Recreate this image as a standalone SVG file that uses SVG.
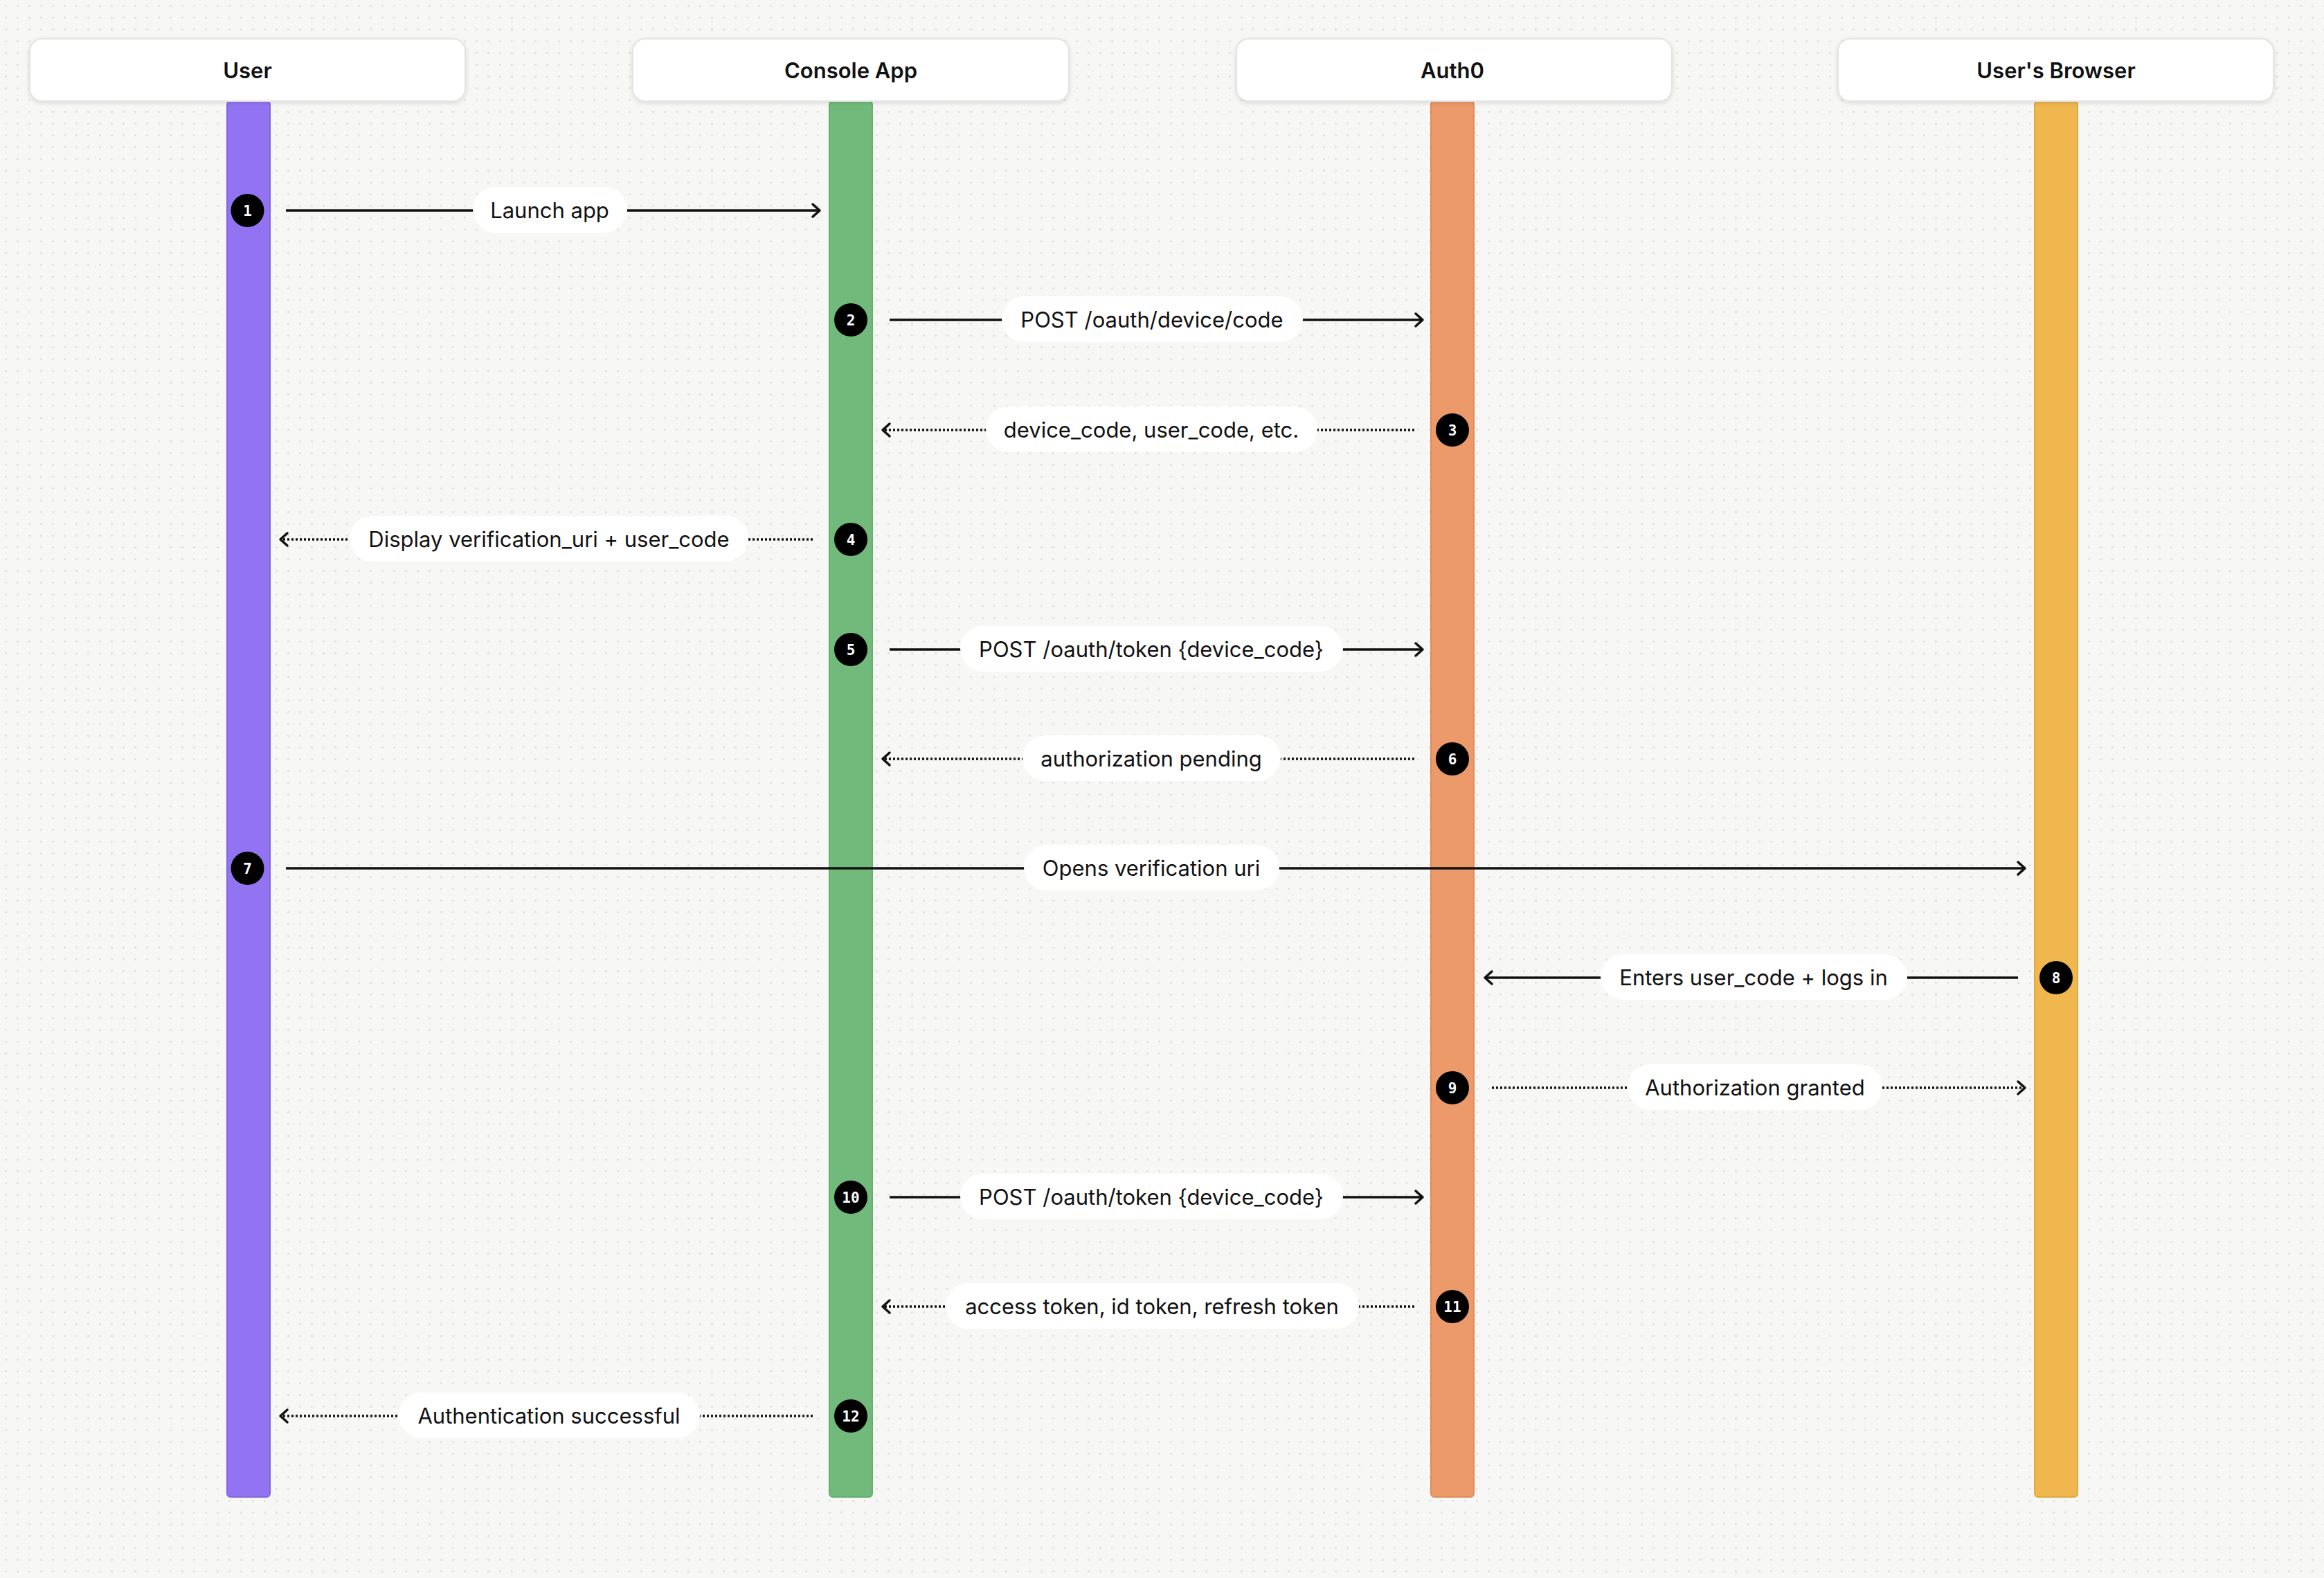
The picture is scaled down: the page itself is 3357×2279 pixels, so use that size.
<svg xmlns="http://www.w3.org/2000/svg" width="3357" height="2279" viewBox="0 0 3357 2279">
<defs>
<pattern id="dots" width="17" height="17" patternUnits="userSpaceOnUse"><circle cx="8.5" cy="8.5" r="1.6" fill="#e0e0dc"/></pattern>
<marker id="ah" markerUnits="userSpaceOnUse" markerWidth="24" markerHeight="24" viewBox="0 0 24 24" refX="20" refY="12" orient="auto"><path d="M10,3 L20,12 L10,21" fill="none" stroke="#111" stroke-width="3.5" stroke-linecap="round" stroke-linejoin="round"/></marker>
<filter id="sh" x="-5%" y="-20%" width="110%" height="150%"><feDropShadow dx="0" dy="2" stdDeviation="3" flood-color="#000" flood-opacity="0.12"/></filter>
</defs>
<style>
.hdr{fill:#fff;stroke:#e4e4e4;stroke-width:2;filter:url(#sh)}
.ht{font-family:Inter,"Noto Sans",sans-serif;font-weight:600;font-size:31px;fill:#111;text-anchor:middle;dominant-baseline:central}
.ln{stroke:#111;stroke-width:3.5;fill:none;marker-end:url(#ah)}
.dt{stroke-dasharray:3 3}
.pill{fill:#fff}
.lt{font-family:Inter,"Noto Sans",sans-serif;font-size:31px;fill:#111;text-anchor:middle;dominant-baseline:central}
.bd{fill:#000}
.bt{font-family:"DejaVu Sans Mono",monospace;font-weight:bold;font-size:21px;fill:#fff;text-anchor:middle;dominant-baseline:central}
</style>
<rect width="3357" height="2279" fill="#f7f7f5"/>
<rect width="3357" height="2279" fill="url(#dots)"/>
<g id="user"><rect x="328" y="146" width="62" height="2016" rx="5" fill="#9274f3" stroke="#8466e0" stroke-width="2"/><rect class="hdr" x="43" y="56" width="629" height="90" rx="18"/><text class="ht" x="357.5" y="101">User</text></g>
<g id="console"><rect x="1198" y="146" width="62" height="2016" rx="5" fill="#72ba7b" stroke="#66ad70" stroke-width="2"/><rect class="hdr" x="914" y="56" width="630" height="90" rx="18"/><text class="ht" x="1229" y="101">Console App</text></g>
<g id="auth0"><rect x="2067" y="146" width="62" height="2016" rx="5" fill="#ec9a6a" stroke="#de8c5c" stroke-width="2"/><rect class="hdr" x="1786" y="56" width="629" height="90" rx="18"/><text class="ht" x="2098" y="101">Auth0</text></g>
<g id="browser"><rect x="2939" y="146" width="62" height="2016" rx="5" fill="#efb74d" stroke="#e0a940" stroke-width="2"/><rect class="hdr" x="2655" y="56" width="629" height="90" rx="18"/><text class="ht" x="2970" y="101">User's Browser</text></g>
<g id="connectors">
<line class="ln" x1="413" y1="304" x2="1184" y2="304"/>
<line class="ln" x1="1285" y1="462" x2="2055" y2="462"/>
<line class="ln dt" x1="2043" y1="621" x2="1275" y2="621"/>
<line class="ln dt" x1="1174" y1="779" x2="405" y2="779"/>
<line class="ln" x1="1285" y1="938" x2="2055" y2="938"/>
<line class="ln dt" x1="2043" y1="1096" x2="1275" y2="1096"/>
<line class="ln" x1="413" y1="1254" x2="2925" y2="1254"/>
<line class="ln" x1="2915" y1="1412" x2="2145" y2="1412"/>
<line class="ln dt" x1="2155" y1="1571" x2="2925" y2="1571"/>
<line class="ln" x1="1285" y1="1729" x2="2055" y2="1729"/>
<line class="ln dt" x1="2043" y1="1887" x2="1275" y2="1887"/>
<line class="ln dt" x1="1174" y1="2045" x2="405" y2="2045"/>
</g>
<g id="labels">
<rect class="pill" x="683" y="270" width="223" height="66" rx="33"/><text class="lt" x="794" y="303">Launch app</text>
<rect class="pill" x="1447" y="428" width="435" height="66" rx="33"/><text class="lt" x="1664" y="461">POST /oauth/device/code</text>
<rect class="pill" x="1424" y="587" width="479" height="66" rx="33"/><text class="lt" x="1663" y="620">device_code, user_code, etc.</text>
<rect class="pill" x="505" y="745" width="576" height="66" rx="33"/><text class="lt" x="793" y="778">Display verification_uri + user_code</text>
<rect class="pill" x="1387" y="904" width="553" height="66" rx="33"/><text class="lt" x="1663" y="937">POST /oauth/token {device_code}</text>
<rect class="pill" x="1477" y="1062" width="373" height="66" rx="33"/><text class="lt" x="1663" y="1095">authorization pending</text>
<rect class="pill" x="1479" y="1220" width="369" height="66" rx="33"/><text class="lt" x="1663" y="1253">Opens verification uri</text>
<rect class="pill" x="2312" y="1378" width="443" height="66" rx="33"/><text class="lt" x="2533" y="1411">Enters user_code + logs in</text>
<rect class="pill" x="2351" y="1537" width="368" height="66" rx="33"/><text class="lt" x="2535" y="1570">Authorization granted</text>
<rect class="pill" x="1387" y="1695" width="553" height="66" rx="33"/><text class="lt" x="1663" y="1728">POST /oauth/token {device_code}</text>
<rect class="pill" x="1366" y="1853" width="597" height="66" rx="33"/><text class="lt" x="1664" y="1886">access token, id token, refresh token</text>
<rect class="pill" x="576" y="2011" width="435" height="66" rx="33"/><text class="lt" x="793" y="2044">Authentication successful</text>
</g>
<g id="badges">
<circle class="bd" cx="357.5" cy="304" r="24"/><text class="bt" x="357.5" y="305">1</text>
<circle class="bd" cx="1229" cy="462" r="24"/><text class="bt" x="1229" y="463">2</text>
<circle class="bd" cx="2098" cy="621" r="24"/><text class="bt" x="2098" y="622">3</text>
<circle class="bd" cx="1229" cy="779" r="24"/><text class="bt" x="1229" y="780">4</text>
<circle class="bd" cx="1229" cy="938" r="24"/><text class="bt" x="1229" y="939">5</text>
<circle class="bd" cx="2098" cy="1096" r="24"/><text class="bt" x="2098" y="1097">6</text>
<circle class="bd" cx="357.5" cy="1254" r="24"/><text class="bt" x="357.5" y="1255">7</text>
<circle class="bd" cx="2970" cy="1412" r="24"/><text class="bt" x="2970" y="1413">8</text>
<circle class="bd" cx="2098" cy="1571" r="24"/><text class="bt" x="2098" y="1572">9</text>
<circle class="bd" cx="1229" cy="1729" r="24"/><text class="bt" x="1229" y="1730">10</text>
<circle class="bd" cx="2098" cy="1887" r="24"/><text class="bt" x="2098" y="1888">11</text>
<circle class="bd" cx="1229" cy="2045" r="24"/><text class="bt" x="1229" y="2046">12</text>
</g>
</svg>
